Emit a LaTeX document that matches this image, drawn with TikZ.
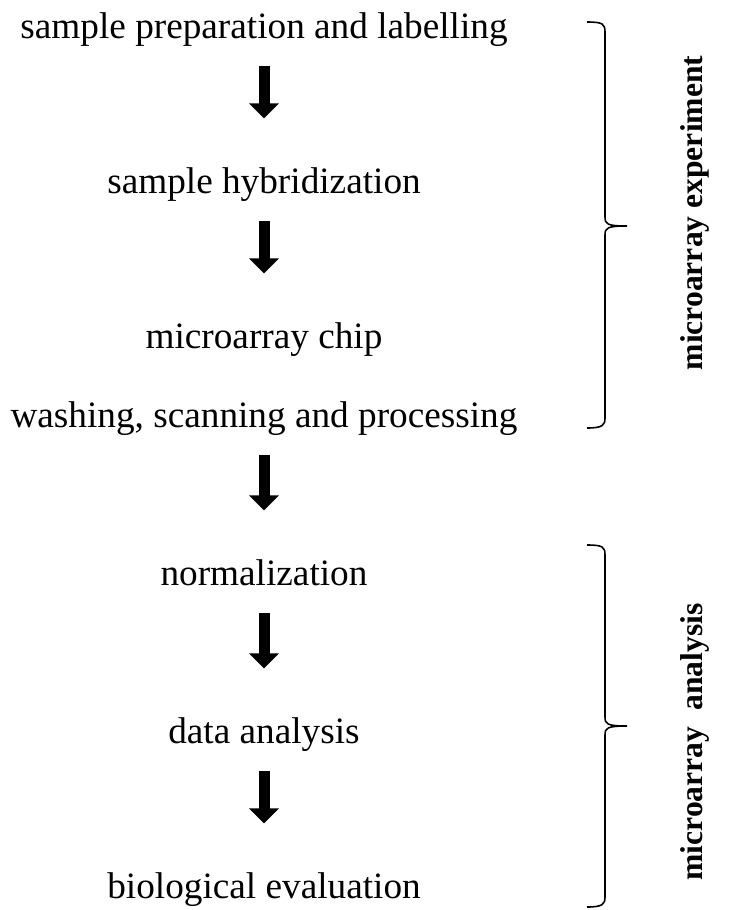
\documentclass[tikz,border=0pt]{standalone}
\usepackage{fontspec}
\setmainfont{Liberation Serif}
\usetikzlibrary{arrows.meta}
\tikzset{%%
  stepText/.style={anchor=base, inner sep=0pt, text height=15pt, text depth=5pt,
    font=\fontsize{21.2}{25}\selectfont},
  bigArrow/.style={-{Triangle[width=0.58cm,length=0.3cm]}, line width=0.22cm,
    shorten <=0.38cm, shorten >=0.96cm},
  sideBrace/.style={line width=0.9pt},
  sideLabel/.style={rotate=90, font=\fontsize{18}{22}\selectfont\bfseries}
  }
\definecolor{myInk}{RGB}{0, 0, 0}

\begin{document}
\begin{tikzpicture}[x=0.02cm, y=-0.02cm, myInk]
  \useasboundingbox (0,0) rectangle (728,910);
  % steps
  \node[stepText] (prep) at (264,38) {sample preparation and labelling};
  \node[stepText] (hyb) at (264,193) {sample hybridization};
  \node[stepText] (chip) at (264,348) {microarray chip};
  \node[stepText] (wash) at (264,427) {washing, scanning and processing};
  \node[stepText] (norm) at (264,585) {normalization};
  \node[stepText] (data) at (264,743) {data analysis};
  \node[stepText] (bio) at (264,898) {biological evaluation};
  % arrows
  \draw[bigArrow] (prep) -- (hyb);
  \draw[bigArrow] (hyb) -- (chip);
  \draw[bigArrow] (wash) -- (norm);
  \draw[bigArrow] (norm) -- (data);
  \draw[bigArrow] (data) -- (bio);
  % braces
  \draw[sideBrace] (587,22) .. controls (603,22) and (605,24) .. (605,32)
    -- (605,217) .. controls (605,224) and (607,226) .. (627,226)
    .. controls (607,226) and (605,228) .. (605,235)
    -- (605,418) .. controls (605,425) and (603,428) .. (587,428);
  \draw[sideBrace] (587,545) .. controls (603,545) and (605,547) .. (605,555)
    -- (605,717) .. controls (605,724) and (607,726) .. (627,726)
    .. controls (607,726) and (605,728) .. (605,735)
    -- (605,897) .. controls (605,904) and (603,907) .. (587,907);
  \node[sideLabel] (expLabel) at (695,213) {microarray experiment};
  \node[sideLabel] (anaLabel) at (695,742) {microarray~~analysis};
\end{tikzpicture}
\end{document}
